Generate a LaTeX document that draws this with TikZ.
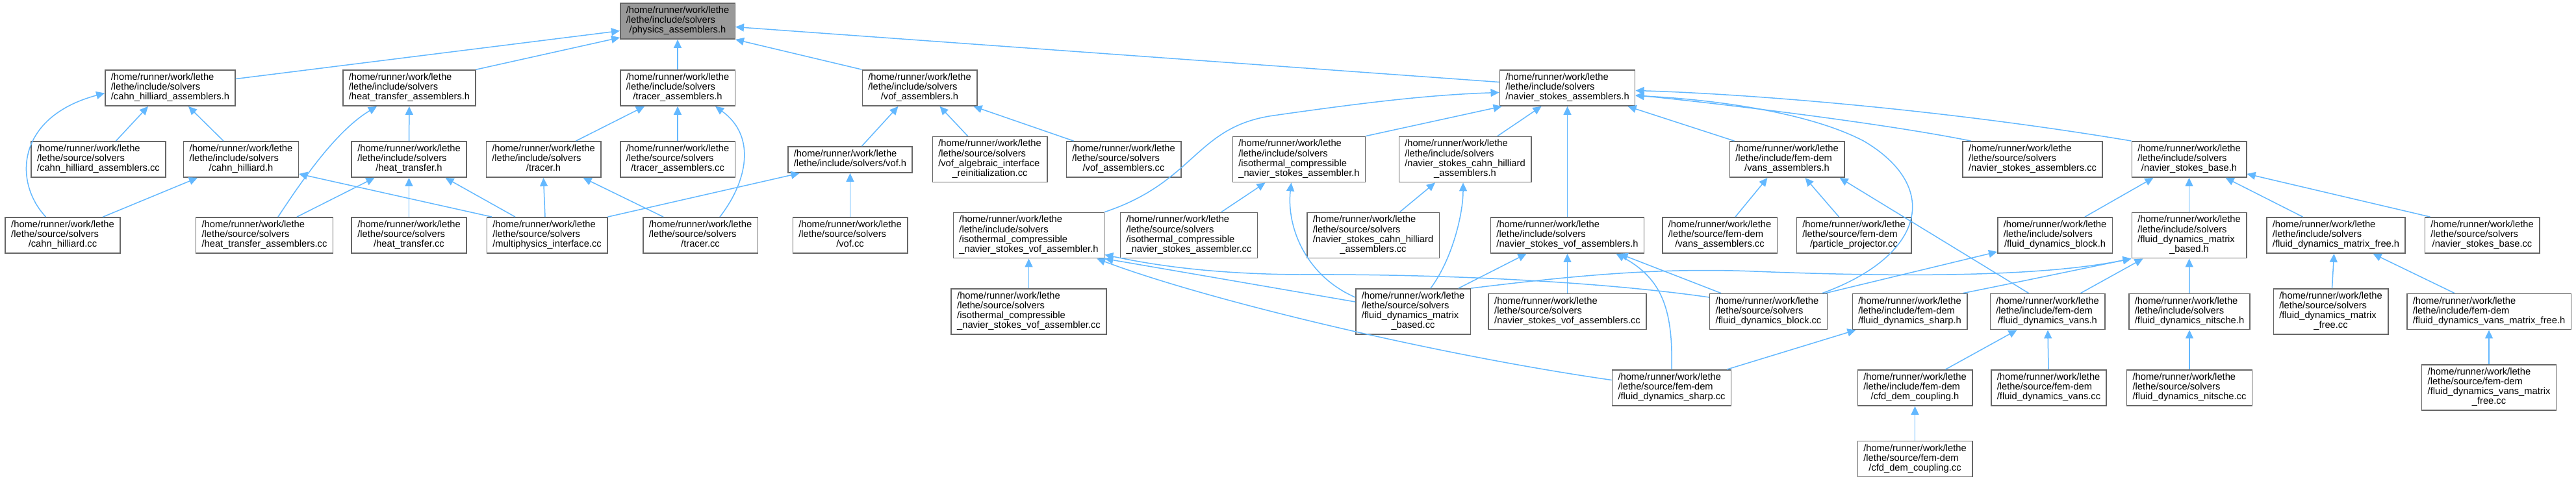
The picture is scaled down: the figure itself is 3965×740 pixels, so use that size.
\documentclass[tikz,border=0pt]{standalone}
\usepackage{fontspec}
\setmainfont{Liberation Sans}
\usetikzlibrary{arrows.meta}
\definecolor{edgeblue}{HTML}{63B8FF}
\definecolor{framegray}{HTML}{666666}
\definecolor{rootgray}{HTML}{999999}
\newcommand{\srcpath}[2]{\begin{tabular}{@{}l@{}}/home/runner/work/lethe\\#1\\\multicolumn{1}{@{}c@{}}{#2}\end{tabular}}

\begin{document}
\begin{tikzpicture}[
    x=1pt, y=-1pt,
    fnode/.style={rectangle, draw=framegray, fill=white, line width=1.5pt, inner xsep=9pt, inner ysep=5pt, font=\fontsize{14.7pt}{14.8pt}\selectfont},
    froot/.style={fnode, fill=rootgray},
    farrow/.style={-{Triangle[length=13pt, width=12pt]}, line width=1.5pt, edgeblue}
]
\useasboundingbox (0,0) rectangle (3965,740);
\node[froot] (pah) at (1043,32.5) {\srcpath{/lethe/include/solvers}{/physics\_assemblers.h}};
\node[fnode] (chah) at (262,135.5) {\srcpath{/lethe/include/solvers}{/cahn\_hilliard\_assemblers.h}};
\node[fnode] (htah) at (630,135.5) {\srcpath{/lethe/include/solvers}{/heat\_transfer\_assemblers.h}};
\node[fnode] (tah) at (1043,135.5) {\srcpath{/lethe/include/solvers}{/tracer\_assemblers.h}};
\node[fnode] (vah) at (1415.5,135.5) {\srcpath{/lethe/include/solvers}{/vof\_assemblers.h}};
\node[fnode] (nsah) at (2412.5,135.5) {\srcpath{/lethe/include/solvers}{/navier\_stokes\_assemblers.h}};
\node[fnode] (chacc) at (151.5,245.5) {\srcpath{/lethe/source/solvers}{/cahn\_hilliard\_assemblers.cc}};
\node[fnode] (chh) at (371,245.5) {\srcpath{/lethe/include/solvers}{/cahn\_hilliard.h}};
\node[fnode] (hth) at (629.5,245.5) {\srcpath{/lethe/include/solvers}{/heat\_transfer.h}};
\node[fnode] (trh) at (836.5,245.5) {\srcpath{/lethe/include/solvers}{/tracer.h}};
\node[fnode] (tacc) at (1043,245.5) {\srcpath{/lethe/source/solvers}{/tracer\_assemblers.cc}};
\node[fnode] (vofh) at (1308.5,246) {\begin{tabular}{@{}l@{}}/home/runner/work/lethe\\/lethe/include/solvers/vof.h\end{tabular}};
\node[fnode] (vaircc) at (1523.5,245.5) {\srcpath{/lethe/source/solvers\\/vof\_algebraic\_interface}{\_reinitialization.cc}};
\node[fnode] (vacc) at (1729.5,245.5) {\srcpath{/lethe/source/solvers}{/vof\_assemblers.cc}};
\node[fnode] (icnsah) at (1999.5,245.5) {\srcpath{/lethe/include/solvers\\/isothermal\_compressible}{\_navier\_stokes\_assembler.h}};
\node[fnode] (nschah) at (2255,245.5) {\srcpath{/lethe/include/solvers\\/navier\_stokes\_cahn\_hilliard}{\_assemblers.h}};
\node[fnode] (vanh) at (2750.5,245.5) {\srcpath{/lethe/include/fem-dem}{/vans\_assemblers.h}};
\node[fnode] (nsacc) at (3128.5,245.5) {\srcpath{/lethe/source/solvers}{/navier\_stokes\_assemblers.cc}};
\node[fnode] (nsbh) at (3369.5,245.5) {\srcpath{/lethe/include/solvers}{/navier\_stokes\_base.h}};
\node[fnode] (chcc) at (96.5,362.5) {\srcpath{/lethe/source/solvers}{/cahn\_hilliard.cc}};
\node[fnode] (htacc) at (407,362.5) {\srcpath{/lethe/source/solvers}{/heat\_transfer\_assemblers.cc}};
\node[fnode] (htcc) at (629.5,362.5) {\srcpath{/lethe/source/solvers}{/heat\_transfer.cc}};
\node[fnode] (micc) at (842,362.5) {\srcpath{/lethe/source/solvers}{/multiphysics\_interface.cc}};
\node[fnode] (trcc) at (1078,362.5) {\srcpath{/lethe/source/solvers}{/tracer.cc}};
\node[fnode] (vofcc) at (1308.5,362.5) {\srcpath{/lethe/source/solvers}{/vof.cc}};
\node[fnode] (icnsvah) at (1583.5,362.5) {\srcpath{/lethe/include/solvers\\/isothermal\_compressible}{\_navier\_stokes\_vof\_assembler.h}};
\node[fnode] (icnsacc) at (1830,362.5) {\srcpath{/lethe/source/solvers\\/isothermal\_compressible}{\_navier\_stokes\_assembler.cc}};
\node[fnode] (nschacc) at (2113.5,362.5) {\srcpath{/lethe/source/solvers\\/navier\_stokes\_cahn\_hilliard}{\_assemblers.cc}};
\node[fnode] (nsvah) at (2412.5,362.5) {\srcpath{/lethe/include/solvers}{/navier\_stokes\_vof\_assemblers.h}};
\node[fnode] (vancc) at (2647,362.5) {\srcpath{/lethe/source/fem-dem}{/vans\_assemblers.cc}};
\node[fnode] (ppcc) at (2853.5,362.5) {\srcpath{/lethe/source/fem-dem}{/particle\_projector.cc}};
\node[fnode] (fdbh) at (3163,362.5) {\srcpath{/lethe/include/solvers}{/fluid\_dynamics\_block.h}};
\node[fnode] (fdmbh) at (3369.5,362.5) {\srcpath{/lethe/include/solvers\\/fluid\_dynamics\_matrix}{\_based.h}};
\node[fnode] (fdmfh) at (3595.5,362.5) {\srcpath{/lethe/include/solvers}{/fluid\_dynamics\_matrix\_free.h}};
\node[fnode] (nsbcc) at (3820.5,362.5) {\srcpath{/lethe/source/solvers}{/navier\_stokes\_base.cc}};
\node[fnode] (icnsvacc) at (1583.5,480) {\srcpath{/lethe/source/solvers\\/isothermal\_compressible}{\_navier\_stokes\_vof\_assembler.cc}};
\node[fnode] (fdmbcc) at (2175,480) {\srcpath{/lethe/source/solvers\\/fluid\_dynamics\_matrix}{\_based.cc}};
\node[fnode] (nsvacc) at (2412.5,480) {\srcpath{/lethe/source/solvers}{/navier\_stokes\_vof\_assemblers.cc}};
\node[fnode] (fdbcc) at (2722,480) {\srcpath{/lethe/source/solvers}{/fluid\_dynamics\_block.cc}};
\node[fnode] (fdsh) at (2939.5,480) {\srcpath{/lethe/include/fem-dem}{/fluid\_dynamics\_sharp.h}};
\node[fnode] (fdvh) at (3151.5,480) {\srcpath{/lethe/include/fem-dem}{/fluid\_dynamics\_vans.h}};
\node[fnode] (fdnh) at (3370,480) {\srcpath{/lethe/include/solvers}{/fluid\_dynamics\_nitsche.h}};
\node[fnode] (fdmfcc) at (3587.5,480) {\srcpath{/lethe/source/solvers\\/fluid\_dynamics\_matrix}{\_free.cc}};
\node[fnode] (fdvmfh) at (3831,480) {\srcpath{/lethe/include/fem-dem}{/fluid\_dynamics\_vans\_matrix\_free.h}};
\node[fnode] (fdscc) at (2573,597.5) {\srcpath{/lethe/source/fem-dem}{/fluid\_dynamics\_sharp.cc}};
\node[fnode] (cdch) at (2947.5,597.5) {\srcpath{/lethe/include/fem-dem}{/cfd\_dem\_coupling.h}};
\node[fnode] (fdvcc) at (3153.5,597.5) {\srcpath{/lethe/source/fem-dem}{/fluid\_dynamics\_vans.cc}};
\node[fnode] (fdncc) at (3370,597.5) {\srcpath{/lethe/source/solvers}{/fluid\_dynamics\_nitsche.cc}};
\node[fnode] (fdvmfcc) at (3831,597) {\srcpath{/lethe/source/fem-dem\\/fluid\_dynamics\_vans\_matrix}{\_free.cc}};
\node[fnode] (cdccc) at (2947.5,707) {\srcpath{/lethe/source/fem-dem}{/cfd\_dem\_coupling.cc}};
\draw[farrow] ([xshift=-26pt]chcc.north) .. controls (20,280) and (25,180) .. ([yshift=-8pt]chah.west);
\draw[farrow] ([xshift=27pt]chacc.north) -- ([xshift=-34pt]chah.south);
\draw[farrow] ([xshift=-27pt]chh.north) -- ([xshift=28pt]chah.south);
\draw[farrow] ([yshift=14pt]chah.east) -- ([yshift=-15pt]pah.west);
\draw[farrow] ([xshift=62pt]chcc.north) -- ([xshift=-67pt]chh.south);
\draw[farrow] ([xshift=-85pt]micc.north) -- ([yshift=6pt]chh.south east);
\draw[farrow] ([xshift=21pt]htacc.north) .. controls (470,270) and (520,200) .. ([xshift=-50pt]htah.south);
\draw[farrow] ([xshift=50pt]htacc.north) -- ([xshift=-53pt]hth.south);
\draw[farrow] (hth) -- (htah);
\draw[farrow] (htcc) -- (hth);
\draw[farrow] ([xshift=-49pt]micc.north) -- ([xshift=56pt]hth.south);
\draw[farrow] (htah.north east) -- ([yshift=3pt]pah.south west);
\draw[farrow] (tah) -- (pah);
\draw[farrow] (vah.north west) -- (pah.south east);
\draw[farrow] ([yshift=9pt]nsah.west) -- ([yshift=-9pt]pah.east);
\draw[farrow] ([xshift=50pt]trh.north) -- ([xshift=-51pt]tah.south);
\draw[farrow] (tacc) -- (tah);
\draw[farrow] ([xshift=30pt]trcc.north) .. controls (1150,280) and (1165,210) .. ([xshift=58pt]tah.south);
\draw[farrow] ([xshift=-3pt]micc.north) -- (trh.south);
\draw[farrow] ([xshift=-57pt]trcc.north) -- ([xshift=61pt]trh.south);
\draw[farrow] (micc.north east) -- ([xshift=-78pt]vofh.south);
\draw[farrow] (vofcc) -- (vofh);
\draw[farrow] ([xshift=18pt]vofh.north) -- ([xshift=-33pt]vah.south);
\draw[farrow] ([xshift=-34pt]vaircc.north) -- ([xshift=31pt]vah.south);
\draw[farrow] ([xshift=-77pt]vacc.north) -- ([xshift=83pt]vah.south);
\draw[farrow] (icnsvah.north east) .. controls (1840,280) and (1840,195) .. (1960,178) .. controls (2100,158) and (2200,146) .. ([yshift=-7pt]nsah.west);
\draw[farrow] (icnsvacc) -- (icnsvah);
\draw[farrow] ([xshift=50pt]icnsacc.north) -- ([xshift=-52pt]icnsah.south);
\draw[farrow] ([yshift=22pt]fdmbcc.west) .. controls (2010,425) and (1980,350) .. ([xshift=-12pt]icnsah.south);
\draw[farrow] ([xshift=41pt]nschacc.north) -- ([xshift=-46pt]nschah.south);
\draw[farrow] ([xshift=27pt]fdmbcc.north) .. controls (2235,400) and (2252,330) .. ([xshift=-3pt]nschah.south);
\draw[farrow] ([xshift=70pt]fdmbcc.north) -- ([xshift=-63pt]nsvah.south);
\draw[farrow] (nsvacc) -- (nsvah);
\draw[farrow] (fdscc.north) .. controls (2575,480) and (2560,430) .. ([xshift=75pt]nsvah.south);
\draw[farrow] ([xshift=-73pt]fdbcc.north) -- ([xshift=80pt]nsvah.south);
\draw[farrow] (nsvah) -- (nsah);
\draw[farrow] ([xshift=50pt]nschah.north) -- ([xshift=-40pt]nsah.south);
\draw[farrow] (icnsah.north east) -- ([xshift=4pt]nsah.south west);
\draw[farrow] ([xshift=-81pt]vanh.north) -- ([xshift=93pt]nsah.south);
\draw[farrow] ([xshift=-95pt]nsacc.north) .. controls (2900,190) and (2650,160) .. ([yshift=-11pt]nsah.east);
\draw[farrow] (nsbh.north west) .. controls (3000,170) and (2700,145) .. ([yshift=-4pt]nsah.east);
\draw[farrow] ([xshift=83pt]fdbcc.north) .. controls (2960,395) and (2990,290) .. (2870,218) .. controls (2780,170) and (2620,152) .. ([yshift=-12pt]nsah.east);
\draw[farrow] ([xshift=24pt]vancc.north) -- ([xshift=-30pt]vanh.south);
\draw[farrow] ([xshift=-23pt]ppcc.north) -- ([xshift=28pt]vanh.south);
\draw[farrow] ([xshift=-29pt]fdvh.north) -- ([xshift=81pt]vanh.south);
\draw[farrow] ([xshift=46pt]fdbh.north) -- ([xshift=-55pt]nsbh.south);
\draw[farrow] (fdmbh) -- (nsbh);
\draw[farrow] ([xshift=-51pt]fdmfh.north) -- ([xshift=56pt]nsbh.south);
\draw[farrow] ([xshift=-80pt]nsbcc.north) -- ([yshift=6pt]nsbh.south east);
\draw[farrow] ([xshift=88pt]fdbcc.north) -- ([yshift=3pt]fdbh.south west);
\draw[farrow] (fdmbcc.north east) .. controls (2420,425) and (2550,412) .. (2700,418) .. controls (2950,428) and (3150,425) .. (fdmbh.south west);
\draw[farrow] ([xshift=82pt]fdsh.north) .. controls (3080,440) and (3200,415) .. (fdmbh.south west);
\draw[farrow] ([xshift=51pt]fdvh.north) -- ([xshift=18pt]fdmbh.south west);
\draw[farrow] (fdnh) -- (fdmbh);
\draw[farrow] ([xshift=85pt]fdscc.north) -- ([xshift=-83pt]fdsh.south);
\draw[farrow] ([xshift=47pt]cdch.north) -- ([xshift=-47pt]fdvh.south);
\draw[farrow] (fdvcc) -- (fdvh);
\draw[farrow] (cdccc) -- (cdch);
\draw[farrow] (fdncc) -- (fdnh);
\draw[farrow] ([xshift=2pt]fdmfcc.north) -- ([xshift=-3pt]fdmfh.south);
\draw[farrow] ([xshift=-53pt]fdvmfh.north) -- ([xshift=57pt]fdmfh.south);
\draw[farrow] (fdvmfcc) -- (fdvmfh);
\draw[farrow] ([yshift=15pt]fdmbcc.west) -- (icnsvah.south east);
\draw[farrow] ([yshift=22pt]fdbcc.west) .. controls (2450,432) and (2200,422) .. (2000,423) .. controls (1850,422) and (1760,405) .. ([yshift=6pt]icnsvah.south east);
\draw[farrow] ([yshift=12pt]fdscc.west) .. controls (2200,545) and (1850,460) .. ([xshift=-12pt]icnsvah.south east);
\end{tikzpicture}
\end{document}
